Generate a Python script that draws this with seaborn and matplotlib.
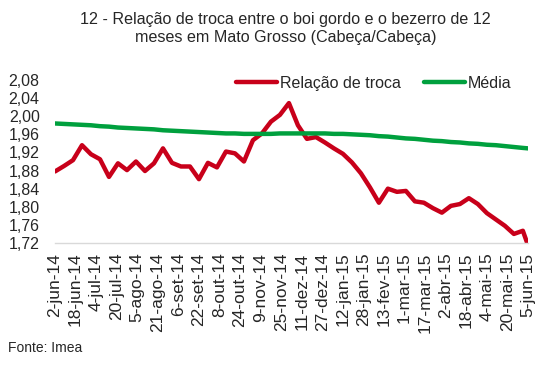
import pandas as pd
import matplotlib
matplotlib.use('Agg')
import matplotlib.pyplot as plt
import seaborn as sns

# weekly dates (2-jun-14 .. 1-jun-15) plus the last reading on 5-jun-15
dates = list(pd.date_range('2014-06-02', periods=53, freq='7D')) + [pd.Timestamp('2015-06-05')]

relacao = [1.878, 1.890, 1.903, 1.936, 1.916, 1.905, 1.866, 1.896, 1.881, 1.900,
           1.879, 1.896, 1.929, 1.897, 1.889, 1.889, 1.861, 1.897, 1.887, 1.922,
           1.918, 1.900, 1.947, 1.962, 1.988, 2.003, 2.029, 1.980, 1.950, 1.954,
           1.942, 1.929, 1.917, 1.898, 1.874, 1.843, 1.809, 1.840, 1.833, 1.835,
           1.812, 1.809, 1.797, 1.787, 1.802, 1.806, 1.819, 1.806, 1.786, 1.772,
           1.758, 1.740, 1.747, 1.715]

media = [1.984, 1.983, 1.982, 1.981, 1.980, 1.978, 1.977, 1.975, 1.974, 1.973,
         1.972, 1.971, 1.969, 1.968, 1.967, 1.966, 1.965, 1.964, 1.963, 1.962,
         1.962, 1.961, 1.961, 1.961, 1.961, 1.962, 1.962, 1.962, 1.962, 1.962,
         1.962, 1.961, 1.961, 1.960, 1.959, 1.958, 1.956, 1.955, 1.953, 1.951,
         1.950, 1.948, 1.946, 1.945, 1.943, 1.942, 1.940, 1.939, 1.937, 1.936,
         1.934, 1.932, 1.930, 1.929]

tick_labels = ['2-jun-14', '18-jun-14', '4-jul-14', '20-jul-14', '5-ago-14', '21-ago-14',
               '6-set-14', '22-set-14', '8-out-14', '24-out-14', '9-nov-14', '25-nov-14',
               '11-dez-14', '27-dez-14', '12-jan-15', '28-jan-15', '13-fev-15', '1-mar-15',
               '17-mar-15', '2-abr-15', '18-abr-15', '4-mai-15', '20-mai-15', '5-jun-15']
y_ticks = [1.72, 1.76, 1.80, 1.84, 1.88, 1.92, 1.96, 2.00, 2.04, 2.08]
y_labels = ['1,72', '1,76', '1,80', '1,84', '1,88', '1,92', '1,96', '2,00', '2,04', '2,08']

sns.set_style('white')
plt.rcParams['font.family'] = ['Liberation Sans', 'DejaVu Sans']

df = pd.DataFrame({'data': dates, 'Relação de troca': relacao, 'Média': media})
long = df.melt(id_vars='data', var_name='serie', value_name='valor')

fig = plt.figure(figsize=(5.54, 3.67), dpi=100)
ax = fig.add_axes([55 / 554, 124 / 367, 473 / 554, 163 / 367])
sns.lineplot(data=long, x='data', y='valor', hue='serie', ax=ax,
             palette={'Relação de troca': '#C8001A', 'Média': '#00A03E'},
             linewidth=3.2, estimator=None)

ax.set_xlim(pd.Timestamp('2014-06-02'), pd.Timestamp('2015-06-05'))
ax.set_ylim(1.72, 2.08)
ax.set_yticks(y_ticks)
ax.set_yticklabels(y_labels, fontsize=11.5)
tick_pos = pd.date_range('2014-06-02', periods=len(tick_labels), freq='16D')
ax.set_xticks(tick_pos)
ax.set_xticklabels(tick_labels, rotation=90, fontsize=12.5)
ax.tick_params(axis='both', length=0)
ax.tick_params(axis='y', pad=11)
ax.tick_params(axis='x', pad=7)
ax.set_xlabel('')
ax.set_ylabel('')
for s in ['top', 'right', 'left']:
    ax.spines[s].set_visible(False)
ax.spines['bottom'].set_color('#D9D9D9')
ax.spines['bottom'].set_linewidth(1)

leg = ax.legend(loc='upper right', bbox_to_anchor=(0.995, 1.115), ncol=2, frameon=False,
                fontsize=11.5, handlelength=2.6, handletextpad=0.15, columnspacing=1.45)

fig.text(0.515, 0.968, '12 - Relação de troca entre o boi gordo e o bezerro de 12\nmeses em Mato Grosso (Cabeça/Cabeça)',
         ha='center', va='top', fontsize=11.6, linespacing=1.3)
fig.text(8 / 554, 1 - 348 / 367, 'Fonte: Imea', ha='left', va='center', fontsize=10)

fig.savefig('out.png', dpi=100)
